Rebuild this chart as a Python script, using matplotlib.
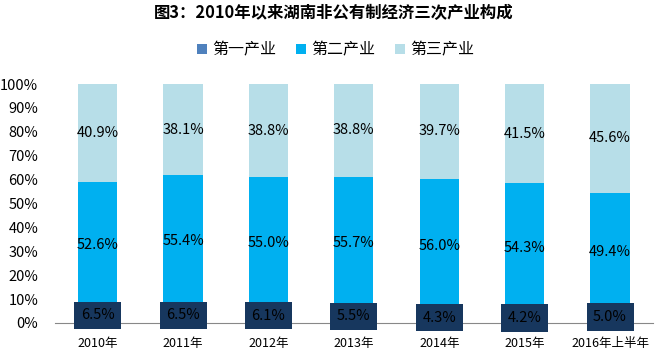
import matplotlib
matplotlib.use("Agg")
from matplotlib import pyplot as plt
import numpy as np

plt.rcParams['font.family'] = ['Noto Sans CJK SC', 'DejaVu Sans']

years = ['2010年', '2011年', '2012年', '2013年', '2014年', '2015年', '2016年上半年']
primary = [6.5, 6.5, 6.1, 5.5, 4.3, 4.2, 5.0]
secondary = [52.6, 55.4, 55.0, 55.7, 56.0, 54.3, 49.4]
tertiary = [40.9, 38.1, 38.8, 38.8, 39.7, 41.5, 45.6]

c1 = '#4F81BD'
c2 = '#00B0F0'
c3 = '#B7DEE8'

fig = plt.figure(figsize=(6.6, 3.54), dpi=100)
ax = fig.add_axes([0.0833, 0.0876, 0.9057, 0.6751])

x = np.arange(len(years))
p = np.array(primary)
s = np.array(secondary)
t = np.array(tertiary)
w = 0.46

ax.bar(x, p, w, color=c1, label='第一产业', zorder=2)
ax.bar(x, s, w, bottom=p, color=c2, label='第二产业', zorder=2)
ax.bar(x, t, w, bottom=p + s, color=c3, label='第三产业', zorder=2)

for i in range(len(x)):
    ax.text(x[i], p[i] / 2, '%.1f%%' % p[i], ha='center', va='center',
            fontsize=10.5, color='black', zorder=4,
            bbox=dict(boxstyle='square,pad=0.45', fc='#17375E', ec='none'))
    ax.text(x[i], p[i] + s[i] / 2, '%.1f%%' % s[i], ha='center', va='center',
            fontsize=10.5, color='black', zorder=4)
    ax.text(x[i], p[i] + s[i] + t[i] / 2, '%.1f%%' % t[i], ha='center', va='center',
            fontsize=10.5, color='black', zorder=4)

ax.set_xlim(-0.5, len(years) - 0.5)
ax.set_ylim(0, 100)
ax.set_yticks(np.arange(0, 101, 10))
ax.set_yticklabels(['%d%%' % v for v in range(0, 101, 10)], fontsize=10.5)
ax.set_xticks(x)
ax.set_xticklabels(years, fontsize=9)
ax.tick_params(axis='x', length=0, pad=10)
ax.tick_params(axis='y', length=0, pad=12)
for sp in ['top', 'right', 'left']:
    ax.spines[sp].set_visible(False)
ax.spines['bottom'].set_color('#888888')
ax.spines['bottom'].set_zorder(3)

fig.text(0.505, 0.962, '图3：2010年以来湖南非公有制经济三次产业构成', ha='center', va='center',
         fontsize=11.8, fontweight='heavy')
ax.legend(loc='center', bbox_to_anchor=(0.47, 1.143), ncol=3, frameon=False,
          fontsize=11.5, handlelength=0.6, handleheight=0.6, columnspacing=1.25,
          handletextpad=0.35)

fig.savefig('out.png', dpi=100)
